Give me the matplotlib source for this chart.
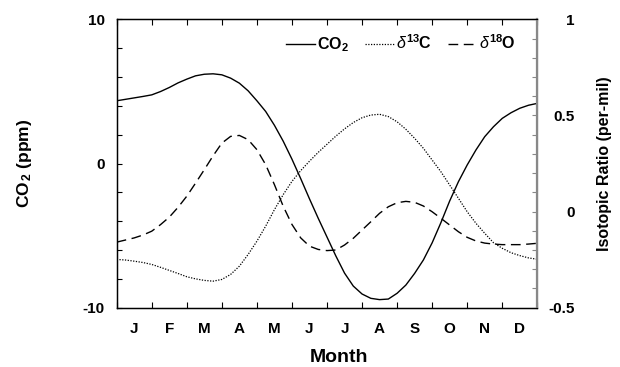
import matplotlib
matplotlib.use("Agg")
import matplotlib.pyplot as plt
from matplotlib.ticker import MultipleLocator, FixedLocator

plt.rcParams['font.family'] = ['Liberation Sans', 'DejaVu Sans']
plt.rcParams['mathtext.fontset'] = 'custom'
plt.rcParams['mathtext.rm'] = 'Liberation Sans:bold'
plt.rcParams['mathtext.bf'] = 'Liberation Sans:bold'
plt.rcParams['mathtext.it'] = 'Liberation Sans:italic'

months = ['J', 'F', 'M', 'A', 'M', 'J', 'J', 'A', 'S', 'O', 'N', 'D']
t = [0.0, 0.25, 0.5, 0.75, 1.0, 1.25, 1.5, 1.75, 2.0, 2.25, 2.5, 2.75,
     3.0, 3.25, 3.5, 3.75, 4.0, 4.25, 4.5, 4.75, 5.0, 5.25, 5.5, 5.75,
     6.0, 6.25, 6.5, 6.75, 7.0, 7.25, 7.5, 7.75, 8.0, 8.25, 8.5, 8.75,
     9.0, 9.25, 9.5, 9.75, 10.0, 10.25, 10.5, 10.75, 11.0, 11.25, 11.5, 11.75, 12.0]
co2 = [4.35, 4.45, 4.55, 4.65, 4.76, 4.99, 5.27, 5.59, 5.85, 6.08, 6.19, 6.22,
       6.15, 5.92, 5.57, 5.04, 4.35, 3.61, 2.65, 1.55, 0.3, -1.05, -2.45, -3.8,
       -5.1, -6.4, -7.6, -8.5, -9.05, -9.35, -9.44, -9.4, -9.0, -8.43, -7.62, -6.69,
       -5.5, -4.1, -2.6, -1.26, -0.1, 0.94, 1.86, 2.55, 3.13, 3.52, 3.83, 4.04, 4.17]
d13c = [-0.249, -0.252, -0.258, -0.265, -0.275, -0.29, -0.306, -0.322, -0.339, -0.35, -0.358, -0.362,
        -0.353, -0.327, -0.284, -0.223, -0.154, -0.076, 0.01, 0.088, 0.157, 0.213, 0.262, 0.308,
        0.35, 0.392, 0.43, 0.463, 0.488, 0.502, 0.506, 0.494, 0.467, 0.428, 0.381, 0.329,
        0.268, 0.207, 0.138, 0.069, -0.001, -0.061, -0.113, -0.162, -0.191, -0.214, -0.229, -0.241, -0.248]
d18o = [-0.159, -0.148, -0.137, -0.122, -0.102, -0.068, -0.029, 0.022, 0.08, 0.148, 0.218, 0.29,
        0.356, 0.391, 0.396, 0.374, 0.322, 0.244, 0.14, 0.028, -0.067, -0.137, -0.18, -0.197,
        -0.203, -0.2, -0.174, -0.139, -0.096, -0.053, -0.009, 0.025, 0.046, 0.053, 0.048, 0.029,
        -0.001, -0.035, -0.07, -0.105, -0.134, -0.153, -0.164, -0.169, -0.172, -0.172, -0.172, -0.169, -0.165]

W, H = 620, 367
fig = plt.figure(figsize=(6.2, 3.67), dpi=100)
L, R, T, B = 116.7, 537.3, 19.3, 307.7
ax = fig.add_axes([L/W, 1 - B/H, (R-L)/W, (B-T)/H])
ax2 = ax.twinx()

l1, = ax.plot(t, co2, color='black', lw=1.0, ls='-')
l2, = ax2.plot(t, d13c, color='black', lw=0.9, ls=(0, (1, 1.2)))
l3, = ax2.plot(t, d18o, color='black', lw=1.0, ls=(0, (7, 4)))

ax.set_xlim(0, 12)
ax.set_ylim(-10, 10)
ax2.set_ylim(-0.5, 1.0)

ax.set_xticks([i + 0.5 for i in range(12)])
ax.set_xticklabels(months, fontweight='bold', fontsize=11)
ax.xaxis.set_minor_locator(FixedLocator(range(13)))
ax.tick_params(axis='x', which='major', length=0, pad=10.5)
ax.tick_params(axis='x', which='minor', direction='in', length=4, top=True, width=0.8)

ax.set_yticks([-10, 0, 10])
ax.set_yticklabels(['-10', '0', '10'], fontweight='bold', fontsize=11)
ax.yaxis.set_minor_locator(MultipleLocator(2))
ax.tick_params(axis='y', which='major', direction='in', length=3.5, pad=8.5, width=0.8)
ax.tick_params(axis='y', which='minor', direction='in', length=3.5, width=0.8)

ax2.set_yticks([-0.5, 0, 0.5, 1.0])
ax2.set_yticklabels(['-0.5', '0', '0.5', '1'], fontweight='bold', fontsize=11)
for lab in ax2.get_yticklabels():
    lab.set_horizontalalignment('right')
ax2.yaxis.set_minor_locator(MultipleLocator(0.1))
ax2.tick_params(axis='y', which='major', direction='in', length=3.5, pad=27, color='#888888', width=0.8)
ax2.tick_params(axis='y', which='minor', direction='in', length=3.5, color='#888888', width=0.8)

for s in ['left', 'bottom', 'top']:
    ax.spines[s].set_linewidth(1.0)
ax2.spines['right'].set_color('#888888')
ax2.spines['right'].set_linewidth(1.6)

yc = 1 - ((T + B) / 2) / H
fig.text(339/W, 1 - 357.5/H, 'Month', fontweight='bold', fontsize=14, ha='center', va='center')
fig.text(25/W, yc, r'CO$_{\,2}$ (ppm)', fontweight='bold', fontsize=12.5,
         rotation=90, ha='center', va='center')
fig.text(604/W, yc, 'Isotopic Ratio (per-mil)', fontweight='bold', fontsize=11.5,
         rotation=90, ha='center', va='center')

leg = ax.legend([l1, l2, l3], [r'CO$_2$', r'$\delta^{13}$C', r'$\delta^{18}$O'],
                ncol=3, frameon=False, loc='center right', bbox_to_anchor=(0.949, 0.915),
                borderaxespad=0, borderpad=0,
                handlelength=1.8, handletextpad=0.15, columnspacing=1.0,
                prop={'weight': 'bold', 'size': 11.5})

fig.savefig('out.png', dpi=100)
